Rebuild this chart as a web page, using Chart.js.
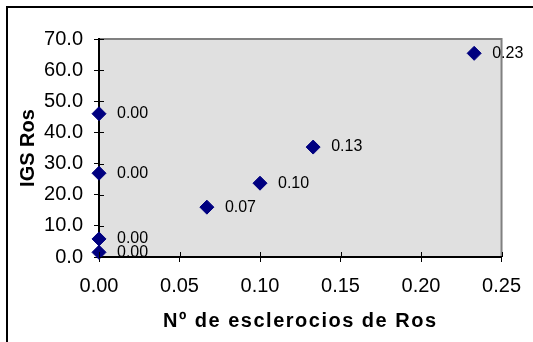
<!DOCTYPE html>
<html>
<head>
<meta charset="utf-8">
<script src="https://cdn.jsdelivr.net/npm/chart.js@4/dist/chart.umd.min.js"></script>
<style>
  html, body { margin: 0; padding: 0; background: #fff; overflow: hidden; }
  #frame { position: absolute; left: 6px; top: 6px; width: 600px; height: 400px;
           border-left: 2px solid #000; border-top: 2px solid #000; }
  #wrap { position: absolute; left: 0; top: 0; width: 533px; height: 342px; }
</style>
</head>
<body>
<div id="frame"></div>
<div id="wrap"><canvas id="myChart" width="533" height="342"></canvas></div>
<script>
// datos
var xVals = [0, 0, 0, 0, 0.067, 0.10, 0.133, 0.233];
var yVals = [46.0, 26.9, 5.8, 1.5, 16.0, 23.7, 35.3, 65.4];
var pointLabels = ["0.00", "0.00", "0.00", "0.00", "0.07", "0.10", "0.13", "0.23"];

var xTitle = "Nº de esclerocios de Ros";
var yTitle = "IGS Ros";

var FONT = "Arial, 'Liberation Sans', sans-serif";

var points = [];
for (var i = 0; i < xVals.length; i++) {
    points.push({x: xVals[i], y: yVals[i]});
}

// fondo gris + borde del area de trazado
var plotBg = {
    id: 'plotBg',
    beforeDraw: function(chart) {
        var a = chart.chartArea, ctx = chart.ctx;
        ctx.save();
        ctx.fillStyle = '#e0e0e0';
        ctx.fillRect(a.left, a.top, a.right - a.left, a.bottom - a.top);
        ctx.strokeStyle = '#808080';
        ctx.lineWidth = 2;
        ctx.beginPath();
        ctx.moveTo(a.left, a.top);
        ctx.lineTo(a.right, a.top);
        ctx.lineTo(a.right, a.bottom);
        ctx.stroke();
        ctx.restore();
    },
    // parte interior de las marcas (cruzan el eje) + titulo X espaciado
    afterDraw: function(chart) {
        var ctx = chart.ctx, xs = chart.scales.x, ys = chart.scales.y;
        ctx.save();
        ctx.strokeStyle = '#000';
        ctx.lineWidth = 1;
        ctx.beginPath();
        ys.ticks.forEach(function(t) {
            var py = Math.round(ys.getPixelForValue(t.value)) + 0.5;
            ctx.moveTo(ys.right, py);
            ctx.lineTo(ys.right + 5, py);
        });
        xs.ticks.forEach(function(t) {
            var px = Math.round(xs.getPixelForValue(t.value)) + 0.5;
            ctx.moveTo(px, xs.top);
            ctx.lineTo(px, xs.top - 5);
        });
        ctx.stroke();

        ctx.font = "bold 20px " + FONT;
        ctx.fillStyle = '#000';
        ctx.textAlign = 'center';
        ctx.textBaseline = 'middle';
        if ('letterSpacing' in ctx) ctx.letterSpacing = '1.5px';
        ctx.fillText(xTitle, (xs.left + xs.right) / 2, 321);
        ctx.restore();
    }
};

// etiquetas de datos a la derecha de cada punto
var dataLabels = {
    id: 'dataLabels',
    afterDatasetsDraw: function(chart) {
        var ctx = chart.ctx;
        var meta = chart.getDatasetMeta(0);
        ctx.save();
        ctx.font = "16px " + FONT;
        ctx.fillStyle = '#000';
        ctx.textAlign = 'left';
        ctx.textBaseline = 'middle';
        meta.data.forEach(function(el, i) {
            ctx.fillText(pointLabels[i], el.x + 18, el.y);
        });
        ctx.restore();
    }
};

var ctx = document.getElementById('myChart');
var myChart = new Chart(ctx, {
    type: 'scatter',
    data: {
        datasets: [{
            data: points,
            pointStyle: 'rectRot',
            pointRadius: 7,
            pointHoverRadius: 7,
            backgroundColor: '#000080',
            borderColor: '#000080',
            borderWidth: 1,
            clip: false
        }]
    },
    options: {
        responsive: false,
        animation: false,
        events: [],
        layout: { padding: { left: 0, top: 39, right: 28, bottom: 0 } },
        plugins: {
            legend: { display: false },
            tooltip: { enabled: false }
        },
        scales: {
            x: {
                type: 'linear',
                min: 0,
                max: 0.25,
                afterFit: function(s) { s.height = 85; },
                ticks: {
                    stepSize: 0.05,
                    color: '#000',
                    padding: 12,
                    font: { family: FONT, size: 20 },
                    callback: function(v) { return v.toFixed(2); }
                },
                grid: { drawOnChartArea: false, tickLength: 5, color: '#000' },
                border: { color: '#000', width: 2 },
                title: { display: false }
            },
            y: {
                min: 0,
                max: 70,
                afterFit: function(s) { s.width = 99; },
                ticks: {
                    stepSize: 10,
                    color: '#000',
                    padding: 11,
                    font: { family: FONT, size: 20 },
                    callback: function(v) { return v.toFixed(1); }
                },
                grid: { drawOnChartArea: false, tickLength: 5, color: '#000' },
                border: { color: '#000', width: 2 },
                title: {
                    display: true,
                    text: yTitle,
                    color: '#000',
                    font: { family: FONT, size: 20, weight: 'bold' },
                    padding: { top: 16, bottom: 0 }
                }
            }
        }
    },
    plugins: [plotBg, dataLabels]
});
</script>
</body>
</html>
